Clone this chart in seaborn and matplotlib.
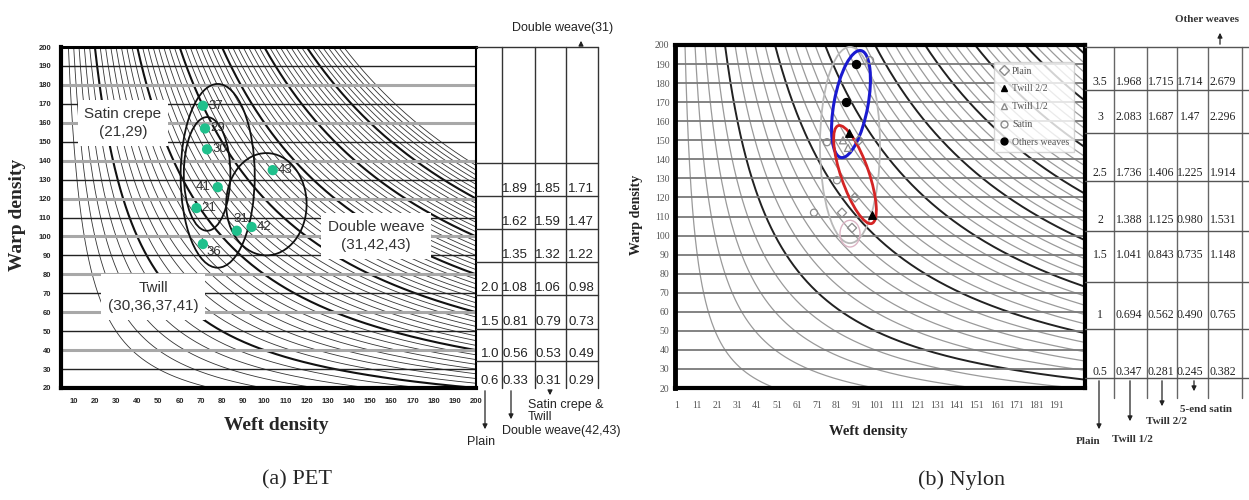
import numpy as np
import pandas as pd
import matplotlib.pyplot as plt
import seaborn as sns
from matplotlib.patches import Ellipse
from matplotlib.lines import Line2D

sns.set_style('white')
plt.rcParams['font.family'] = ['Liberation Sans', 'DejaVu Sans']

# ---- (a) PET data ----
pet_ids = ['37', '29', '30', '41', '21', '31', '42', '43', '36']
pet_weft = [71, 72, 73, 78, 68, 87, 94, 104, 71]
pet_warp = [169, 157, 146, 126, 115, 103, 105, 135, 96]
pet_groups = ['Twill\n(30,36,37,41)', 'Satin crepe\n(21,29)', 'Double weave\n(31,42,43)']
pet_group_cx = [78, 73, 101]
pet_group_cy = [132, 133, 117]
pet_group_w = [35, 22, 38]
pet_group_h = [97, 60, 54]
pet_table = [['', '1.89', '1.85', '1.71'],
             ['', '1.62', '1.59', '1.47'],
             ['', '1.35', '1.32', '1.22'],
             ['2.0', '1.08', '1.06', '0.98'],
             ['1.5', '0.81', '0.79', '0.73'],
             ['1.0', '0.56', '0.53', '0.49'],
             ['0.6', '0.33', '0.31', '0.29']]
pet_xticks = list(range(10, 201, 10))

# ---- (b) Nylon data ----
nylon_types = ['Plain', 'Twill 2/2', 'Twill 1/2', 'Satin', 'Others weaves']
nylon_weft = {'Plain': [90, 83.5, 88.5, 92],
              'Twill 2/2': [98.5, 87],
              'Twill 1/2': [84, 86.5],
              'Satin': [97.5, 69.5, 76, 81],
              'Others weaves': [90.3, 85.5]}
nylon_warp = {'Plain': [120, 112, 104, 150],
              'Twill 2/2': [111, 154],
              'Twill 1/2': [150, 146],
              'Satin': [192, 112, 149, 129],
              'Others weaves': [190, 170]}
nylon_ell_cx = [87.5, 88, 90, 87.5]
nylon_ell_cy = [147.5, 169, 132, 101]
nylon_ell_w = [30, 17, 14, 10]
nylon_ell_h = [103, 57, 54, 14]
nylon_ell_angle = [0, -10, 18, 0]
nylon_table = [['3.5', '1.968', '1.715', '1.714', '2.679'],
               ['3', '2.083', '1.687', '1.47', '2.296'],
               ['2.5', '1.736', '1.406', '1.225', '1.914'],
               ['2', '1.388', '1.125', '0.980', '1.531'],
               ['1.5', '1.041', '0.843', '0.735', '1.148'],
               ['1', '0.694', '0.562', '0.490', '0.765'],
               ['0.5', '0.347', '0.281', '0.245', '0.382']]
nylon_xticks = list(range(1, 192, 10))
yticks = list(range(20, 201, 10))

fig = plt.figure(figsize=(12.49, 5), dpi=100)
W, H = 1249, 500


def px_axes(l, t, r, b):
    return fig.add_axes([l / W, 1 - b / H, (r - l) / W, (b - t) / H])


def draw_curves(ax, cvals, color, lw, xmax):
    for c in cvals:
        x = np.geomspace(c / 200.0, xmax, 300)
        ax.plot(x, c / x, color=color, lw=lw, zorder=1)


# ================= (a) PET =================
ax1 = px_axes(61, 47, 476, 388)
ax1.set_xlim(4, 200)
ax1.set_ylim(20, 200)
thin_a = [c for c in range(1500, 28001, 500) if c % 4000]
draw_curves(ax1, thin_a, '#333333', 0.6, 200)
draw_curves(ax1, range(4000, 24001, 4000), '#111111', 1.5, 200)
for i, y in enumerate(yticks[1:-1]):
    if i % 2 == 0:
        ax1.axhline(y, color='#222222', lw=1.0, zorder=2)
    else:
        ax1.axhline(y, color='#a8a8a8', lw=2.2, zorder=2)


def a_px(px, py):
    return 4 + (px - 61) / 415 * 196, 200 - (py - 47) / 341 * 180


label_px = [(153, 297), (123, 123), (376, 236)]
for g, (lx, ly), cx, cy, w, h in zip(pet_groups, label_px,
                                      pet_group_cx, pet_group_cy, pet_group_w, pet_group_h):
    ax1.add_patch(Ellipse((cx, cy), w, h, fill=False, ec='#111111', lw=1.3, zorder=5))
    tx, ty = a_px(lx, ly)
    ax1.text(tx, ty, g, ha='center', va='center', fontsize=11, color='#333333',
             linespacing=1.3, zorder=4,
             bbox=dict(boxstyle='square,pad=0.45', fc='white', ec='none'))

pet_df = pd.DataFrame({'weft': pet_weft, 'warp': pet_warp, 'id': pet_ids})
sns.scatterplot(data=pet_df, x='weft', y='warp', color='#1fc08c', s=55,
                edgecolor='none', ax=ax1, zorder=6)
offsets = {'41': (-3.5, 0, 'right', 'center'), '31': (2, 6, 'center', 'center'),
           '36': (1.5, -4, 'left', 'center')}
for i, x, y in zip(pet_ids, pet_weft, pet_warp):
    dx, dy, ha, va = offsets.get(i, (2.5, 0, 'left', 'center'))
    ax1.text(x + dx, y + dy, i, ha=ha, va=va, fontsize=9.5, color='#333333', zorder=6)

ax1.set_xticks(pet_xticks)
ax1.set_yticks(yticks)
ax1.tick_params(length=0, labelsize=5.5, pad=7)
for lab in ax1.get_xticklabels() + ax1.get_yticklabels():
    lab.set_fontweight('bold')
ax1.set_xlabel('')
ax1.set_ylabel('')
for s, lw in zip(['left', 'bottom', 'top', 'right'], [3, 3, 2.2, 1.5]):
    ax1.spines[s].set_visible(True)
    ax1.spines[s].set_linewidth(lw)
    ax1.spines[s].set_color('black')

# ================= (b) Nylon =================
ax2 = px_axes(675, 45, 1085, 388)
ax2.set_xlim(0, 205)
ax2.set_ylim(20, 200)
thin_b = [c for c in range(1000, 41001, 1000) if c % 5000]
draw_curves(ax2, thin_b, '#9a9a9a', 0.9, 205)
draw_curves(ax2, range(5000, 40001, 5000), '#222222', 1.4, 205)
for y in yticks[1:-1]:
    ax2.axhline(y, color='#7a7a7a', lw=1.3, zorder=2)

ell_colors = ['#b8b8b8', '#1a1ad0', '#d42424', '#dcb4c4']
ell_lw = [1.3, 2.2, 2.0, 1.0]
for cx, cy, w, h, a, c, lw in zip(nylon_ell_cx, nylon_ell_cy, nylon_ell_w, nylon_ell_h,
                                  nylon_ell_angle, ell_colors, ell_lw):
    ax2.add_patch(Ellipse((cx, cy), w, h, angle=a, fill=False, ec=c, lw=lw, zorder=5))

styles = {'Plain': ('D', 'none', '#8a8a8a', 22),
          'Twill 2/2': ('^', 'black', 'black', 30),
          'Twill 1/2': ('^', 'none', '#8a8a8a', 26),
          'Satin': ('o', 'none', '#8a8a8a', 26),
          'Others weaves': ('o', 'black', 'black', 34)}
handles = []
for t in nylon_types:
    m, fc, ec, s = styles[t]
    sns.scatterplot(x=nylon_weft[t], y=nylon_warp[t], marker=m, facecolor=fc,
                    edgecolor=ec, linewidth=0.9, s=s, ax=ax2, zorder=6)
    handles.append(Line2D([], [], ls='none', marker=m, mfc=fc, mec=ec if fc == 'none' else 'black',
                          ms=5, label=t))
leg = ax2.legend(handles=handles, loc='upper right', bbox_to_anchor=(0.985, 0.965),
                 prop={'family': 'Liberation Serif', 'size': 7}, frameon=True,
                 fancybox=False, edgecolor='#cccccc', labelspacing=0.9,
                 handletextpad=0.3, borderpad=0.5, handlelength=1)
for t in leg.get_texts():
    t.set_color('#555555')

ax2.set_xticks(nylon_xticks)
ax2.set_yticks(yticks)
ax2.tick_params(length=0, labelsize=7, pad=9, labelcolor='#555555')
ax2.tick_params(axis='y', pad=4)
for lab in ax2.get_xticklabels() + ax2.get_yticklabels():
    lab.set_fontfamily('Liberation Serif')
ax2.set_xlabel('')
ax2.set_ylabel('')
for s, lw in zip(['left', 'bottom', 'top', 'right'], [3.5, 3, 3, 3]):
    ax2.spines[s].set_visible(True)
    ax2.spines[s].set_linewidth(lw)
    ax2.spines[s].set_color('black')

# ================= overlay: tables, arrows, labels =================
ov = fig.add_axes([0, 0, 1, 1], zorder=10)
ov.set_xlim(0, W)
ov.set_ylim(H, 0)
ov.axis('off')
ov.patch.set_alpha(0)

# table (a)
ta_cols = [476, 502, 535, 566, 598]
ta_rows = [47, 163, 196, 229, 262, 295, 329, 361, 388]
ta_text_x = [490, 515, 548, 581]
for x in ta_cols[1:]:
    ov.plot([x, x], [47, 388], color='#333333', lw=1)
for y in ta_rows[:-1]:
    ov.plot([476, 598], [y, y], color='#333333', lw=1)
for r, row in enumerate(pet_table):
    yb = ta_rows[r + 2]
    for tx, val in zip(ta_text_x, row):
        ov.text(tx, yb - 1, val, ha='center', va='bottom', fontsize=9.5, color='#222222')

ann = dict(arrowstyle='-|>', color='#222222', lw=0.9, mutation_scale=7)
ov.annotate('', xy=(485, 432), xytext=(485, 388), arrowprops=ann)
ov.annotate('', xy=(511, 422), xytext=(511, 388), arrowprops=ann)
ov.annotate('', xy=(550, 398), xytext=(550, 388), arrowprops=ann)
ov.annotate('', xy=(581, 38), xytext=(581, 47), arrowprops=ann)
ov.text(481, 442, 'Plain', ha='center', va='center', fontsize=9, color='#222222')
ov.text(502, 431, 'Double weave(42,43)', ha='left', va='center', fontsize=9, color='#222222')
ov.text(528, 411, 'Satin crepe &\nTwill', ha='left', va='center', fontsize=9,
        color='#222222', linespacing=0.95)
ov.text(563, 28, 'Double weave(31)', ha='center', va='center', fontsize=9, color='#222222')

ov.text(276, 425, 'Weft density', ha='center', va='center', fontsize=14,
        fontweight='bold', family='Liberation Serif')
ov.text(18, 215, 'Warp density', ha='center', va='center', fontsize=14, rotation=90,
        fontweight='bold', family='Liberation Serif')

# table (b)
tb_cols = [1085, 1114, 1147, 1177, 1208, 1242]
tb_rows = [47, 90, 133, 181, 231, 282, 329, 378]
tb_text_x = [1100, 1129, 1161, 1190, 1223]
tb_text_y = [82, 117, 173, 220, 255, 315, 372]
for x in tb_cols[1:]:
    ov.plot([x, x], [47, 398], color='#666666', lw=1)
for y in tb_rows:
    ov.plot([1085, 1249], [y, y], color='#555555', lw=1)
for row, ty in zip(nylon_table, tb_text_y):
    for tx, val in zip(tb_text_x, row):
        ov.text(tx, ty, val, ha='center', va='center', fontsize=8.5, color='#222222',
                family='Liberation Serif')

ov.annotate('', xy=(1099, 432), xytext=(1099, 378), arrowprops=ann)
ov.annotate('', xy=(1130, 424), xytext=(1130, 378), arrowprops=ann)
ov.annotate('', xy=(1162, 409), xytext=(1162, 378), arrowprops=ann)
ov.annotate('', xy=(1194, 394), xytext=(1194, 378), arrowprops=ann)
ov.annotate('', xy=(1220, 30), xytext=(1220, 47), arrowprops=ann)
bsty = dict(fontsize=8, fontweight='bold', family='Liberation Serif', color='#333333',
            ha='center', va='center')
ov.text(1088, 442, 'Plain', **bsty)
ov.text(1132, 440, 'Twill 1/2', **bsty)
ov.text(1167, 422, 'Twill 2/2', **bsty)
ov.text(1206, 409, '5-end satin', **bsty)
ov.text(1207, 20, 'Other weaves', **bsty)

ov.text(868, 432, 'Weft density', ha='center', va='center', fontsize=10.5,
        fontweight='bold', family='Liberation Serif', color='#222222')
ov.text(637, 215, 'Warp density', ha='center', va='center', fontsize=10, rotation=90,
        fontweight='bold', family='Liberation Serif', color='#222222')

# captions
ov.text(297, 480, '(a) PET', ha='center', va='center', fontsize=16, family='Liberation Serif')
ov.text(962, 480, '(b) Nylon', ha='center', va='center', fontsize=16, family='Liberation Serif')

fig.savefig('out.png', dpi=100)
